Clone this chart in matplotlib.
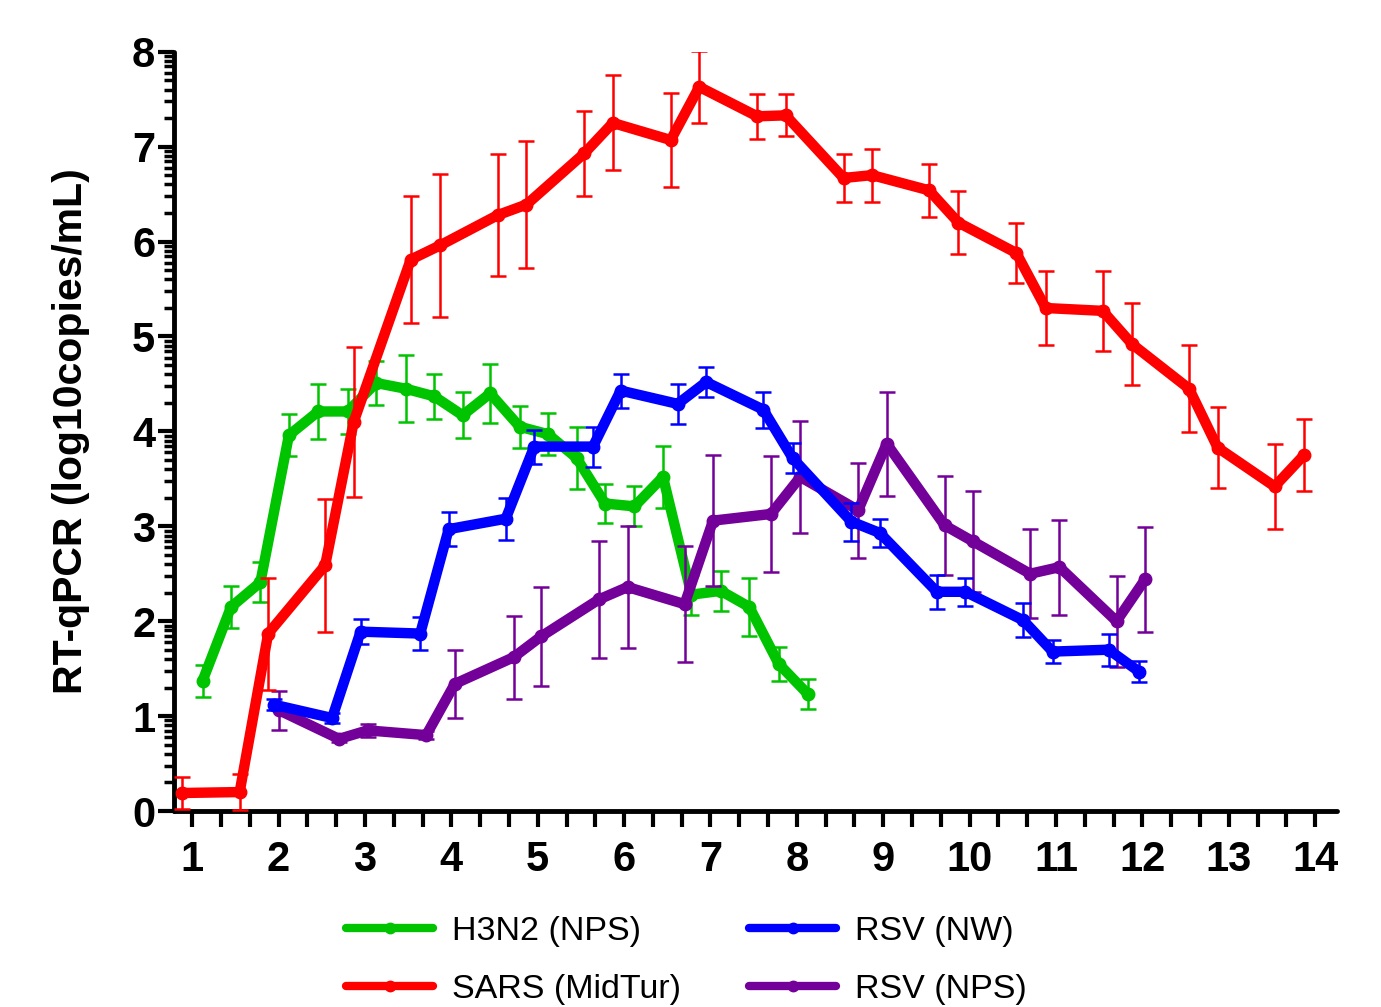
import numpy as np
import matplotlib
matplotlib.use("Agg")
import matplotlib.pyplot as plt
from matplotlib.lines import Line2D
from matplotlib.ticker import FixedLocator

plt.rcParams['font.family'] = ['Liberation Sans', 'DejaVu Sans']

# ---------------- data ----------------
h3n2_x = [1.12, 1.45, 1.79, 2.12, 2.46, 2.80, 3.13, 3.47, 3.80, 4.13, 4.45,
          4.79, 5.12, 5.45, 5.78, 6.12, 6.45, 6.78, 7.12, 7.45, 7.79, 8.13]
h3n2_y = [1.37, 2.15, 2.41, 3.96, 4.21, 4.21, 4.51, 4.45, 4.37, 4.17, 4.40,
          4.05, 3.97, 3.72, 3.24, 3.21, 3.52, 2.28, 2.32, 2.15, 1.55, 1.23]
h3n2_e = [0.17, 0.22, 0.21, 0.22, 0.29, 0.24, 0.23, 0.35, 0.24, 0.24, 0.31,
          0.22, 0.22, 0.33, 0.21, 0.21, 0.33, 0.21, 0.21, 0.31, 0.18, 0.16]

sars_x = [0.88, 1.55, 1.88, 2.54, 2.87, 3.53, 3.87, 4.54, 4.87, 5.54, 5.87,
          6.54, 6.87, 7.54, 7.87, 8.54, 8.87, 9.53, 9.87, 10.54, 10.88,
          11.54, 11.88, 12.54, 12.87, 13.53, 13.87]
sars_y = [0.19, 0.20, 1.87, 2.59, 4.10, 5.81, 5.96, 6.28, 6.39, 6.93, 7.25,
          7.07, 7.63, 7.32, 7.33, 6.67, 6.70, 6.54, 6.20, 5.88, 5.30,
          5.27, 4.92, 4.45, 3.83, 3.42, 3.75]
sars_e = [0.17, 0.19, 0.59, 0.70, 0.79, 0.67, 0.75, 0.64, 0.67, 0.45, 0.50,
          0.50, 0.38, 0.24, 0.22, 0.25, 0.28, 0.28, 0.33, 0.32, 0.39,
          0.42, 0.43, 0.46, 0.43, 0.45, 0.38]

rsv_nw_x = [1.95, 2.62, 2.95, 3.64, 3.97, 4.63, 4.96, 5.64, 5.96, 6.62, 6.95,
            7.61, 7.95, 8.63, 8.96, 9.62, 9.95, 10.62, 10.96, 11.61, 11.96]
rsv_nw_y = [1.12, 0.98, 1.89, 1.87, 2.97, 3.08, 3.84, 3.84, 4.43, 4.29, 4.52,
            4.23, 3.72, 3.05, 2.93, 2.31, 2.31, 2.01, 1.68, 1.70, 1.47]
rsv_nw_e = [0.06, 0.05, 0.13, 0.17, 0.18, 0.22, 0.18, 0.21, 0.18, 0.21, 0.16,
            0.19, 0.16, 0.20, 0.15, 0.18, 0.15, 0.18, 0.12, 0.17, 0.11]

rsv_nps_x = [2.01, 2.70, 3.03, 3.71, 4.04, 4.72, 5.04, 5.71, 6.04, 6.70, 7.03,
             7.70, 8.04, 8.71, 9.04, 9.71, 10.04, 10.70, 11.04, 11.70, 12.03]
rsv_nps_y = [1.06, 0.76, 0.85, 0.80, 1.34, 1.62, 1.84, 2.23, 2.36, 2.18, 3.06,
             3.13, 3.52, 3.17, 3.87, 3.01, 2.84, 2.50, 2.57, 2.00, 2.44]
rsv_nps_e = [0.21, 0.03, 0.07, 0.04, 0.36, 0.44, 0.52, 0.62, 0.64, 0.61, 0.69,
             0.61, 0.59, 0.50, 0.55, 0.52, 0.53, 0.47, 0.50, 0.48, 0.55]

labels = ["H3N2 (NPS)", "SARS (MidTur)", "RSV (NW)", "RSV (NPS)"]
x_ticks = list(range(1, 15))
y_ticks = list(range(0, 9))
y_label = "RT-qPCR (log10copies/mL)"

GREEN = '#00C400'
RED = '#FF0000'
BLUE = '#0000FF'
PURPLE = '#74009A'

# ---------------- figure ----------------
fig = plt.figure(figsize=(13.81, 10.07), dpi=100)
ax = fig.add_axes([0.126, 0.1946, 0.842, 0.754])

series = [
    (h3n2_x, h3n2_y, h3n2_e, GREEN, 2),
    (rsv_nps_x, rsv_nps_y, rsv_nps_e, PURPLE, 3),
    (rsv_nw_x, rsv_nw_y, rsv_nw_e, BLUE, 4),
    (sars_x, sars_y, sars_e, RED, 5),
]
for xs, ys, es, c, z in series:
    ax.errorbar(xs, ys, yerr=es, color=c, lw=7.5, marker='o', ms=9,
                elinewidth=1.8, capsize=5.5, capthick=1.8, zorder=z,
                solid_joinstyle='round', solid_capstyle='round')

ax.set_xlim(0.79, 14.25)
ax.set_ylim(0, 8)

for s in ['top', 'right']:
    ax.spines[s].set_visible(False)
for s in ['left', 'bottom']:
    ax.spines[s].set_linewidth(3.5)
    ax.spines[s].set_capstyle('round')

ax.set_xticks(x_ticks)
ax.set_xticklabels([str(v) for v in x_ticks])
ax.xaxis.set_minor_locator(FixedLocator([v + f for v in range(0, 15) for f in (1/3, 2/3)]))
ax.set_yticks(y_ticks)
ax.set_yticklabels([str(v) for v in y_ticks])
ax.yaxis.set_minor_locator(FixedLocator([n + np.log10(k) for n in range(0, 8) for k in range(2, 10)]))

ax.tick_params(axis='x', which='both', direction='out', length=11.5, width=3,
               labelsize=30, pad=9)
ax.tick_params(axis='y', which='major', direction='out', length=11.5, width=3,
               labelsize=30, pad=2)
ax.tick_params(axis='y', which='minor', direction='out', length=7.2, width=2.5)
for lab in ax.get_xticklabels() + ax.get_yticklabels():
    lab.set_fontweight('bold')

ax.set_ylabel(y_label, fontsize=29.5, fontweight='bold')
ax.yaxis.set_label_coords(-0.0722, 0.5)

handles = [Line2D([0], [0], color=c, lw=6, marker='o', ms=7.5,
                  solid_capstyle='round')
           for c in [GREEN, RED, BLUE, PURPLE]]
fig.legend(handles, labels, ncol=2, loc='upper left',
           bbox_to_anchor=(346 / 1381, 1 - 916 / 1007),
           frameon=False, fontsize=24.5, borderpad=0, borderaxespad=0,
           handlelength=2.56, handletextpad=0.56, columnspacing=2.0,
           labelspacing=0.8, numpoints=1)

fig.savefig('out.png', dpi=100)
